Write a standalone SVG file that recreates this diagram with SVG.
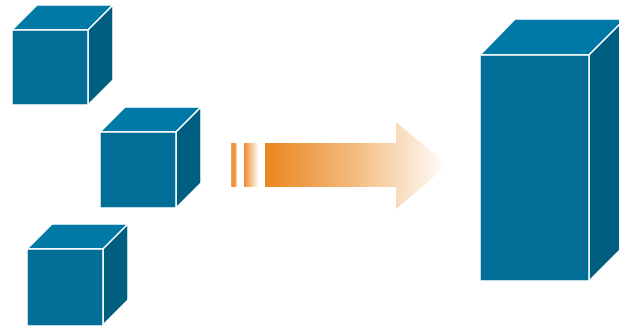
<svg xmlns="http://www.w3.org/2000/svg" width="619" height="326" viewBox="0 0 619 326">
<defs>
<linearGradient id="ag" x1="265" y1="0" x2="448" y2="0" gradientUnits="userSpaceOnUse">
<stop offset="0" stop-color="#ea8520"/>
<stop offset="0.5" stop-color="#f3bd80"/>
<stop offset="1" stop-color="#ffffff"/>
</linearGradient>
<linearGradient id="s1" x1="0" y1="0" x2="1" y2="0">
<stop offset="0" stop-color="#f0a860"/>
<stop offset="0.5" stop-color="#ea8a2a"/>
<stop offset="1" stop-color="#f7d2a8"/>
</linearGradient>
<linearGradient id="s2" x1="0" y1="0" x2="1" y2="0">
<stop offset="0" stop-color="#eb8a28"/>
<stop offset="1" stop-color="#ffffff"/>
</linearGradient>
<style>
.front{fill:#006e96;stroke:#fff;stroke-width:1.5}
.top{fill:#0079a6;stroke:#fff;stroke-width:1.5}
.side{fill:#005e80;stroke:#fff;stroke-width:1.5}
</style>
</defs>
<g id="cube1">
<polygon class="top" points="12,30 37,5 113,5 88,30"/>
<polygon class="side" points="88,30 113,5 113,80 88,105"/>
<rect class="front" x="12" y="30" width="76" height="75"/>
</g>
<g id="cube2">
<polygon class="top" points="100,132 125,107 201,107 176,132"/>
<polygon class="side" points="176,132 201,107 201,183 176,208"/>
<rect class="front" x="100" y="132" width="76" height="76"/>
</g>
<g id="cube3">
<polygon class="top" points="27,249 52,224 128,224 103,249"/>
<polygon class="side" points="103,249 128,224 128,300 103,325"/>
<rect class="front" x="27" y="249" width="76" height="77"/>
</g>
<g id="tower">
<polygon class="top" points="480,55 515,19 625,19 589,55"/>
<polygon class="side" points="589,55 625,19 625,245 589,281"/>
<rect class="front" x="480" y="55" width="109" height="226"/>
</g>
<g id="arrow">
<rect x="231" y="143" width="6" height="44" fill="url(#s1)"/>
<rect x="244" y="143" width="15" height="44" fill="url(#s2)"/>
<polygon points="265,143 396,143 396,122 448,165 396,209 396,187 265,187" fill="url(#ag)"/>
</g>
</svg>
